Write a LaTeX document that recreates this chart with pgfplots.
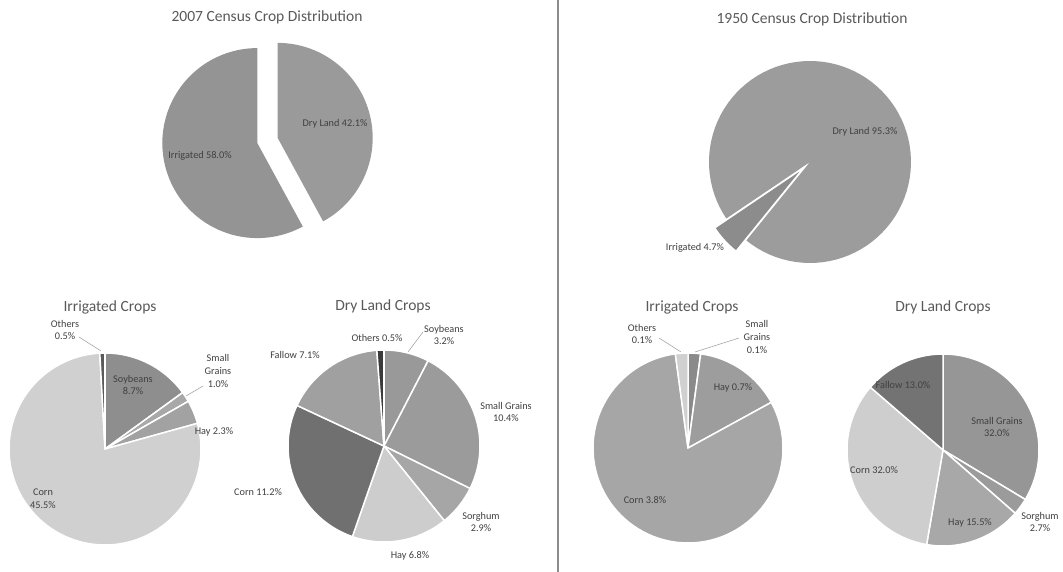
\documentclass[border=0pt]{standalone}
\usepackage{fontspec}
\setmainfont{Carlito}
\usepackage{pgfplots}
\pgfplotsset{compat=1.18}
\definecolor{txt}{HTML}{404040}
\definecolor{ttlc}{HTML}{595959}
\definecolor{divc}{HTML}{8C8C8C}
\definecolor{leadc}{HTML}{A6A6A6}
% slice colours
\definecolor{cA1}{HTML}{9A9A9A}
\definecolor{cA2}{HTML}{949494}
\definecolor{cB1}{HTML}{8C8C8C}
\definecolor{cB2}{HTML}{9C9C9C}
\definecolor{cC1}{HTML}{8E8E8E}
\definecolor{cC2}{HTML}{A8A8A8}
\definecolor{cC3}{HTML}{A2A2A2}
\definecolor{cC4}{HTML}{D0D0D0}
\definecolor{cC5}{HTML}{5A5A5A}
\definecolor{cD1}{HTML}{999999}
\definecolor{cD2}{HTML}{9B9B9B}
\definecolor{cD3}{HTML}{A6A6A6}
\definecolor{cD4}{HTML}{CDCDCD}
\definecolor{cD5}{HTML}{707070}
\definecolor{cD6}{HTML}{A0A0A0}
\definecolor{cD7}{HTML}{3A3A3A}
\definecolor{cE1}{HTML}{8A8A8A}
\definecolor{cE2}{HTML}{9D9D9D}
\definecolor{cE3}{HTML}{A6A6A6}
\definecolor{cE4}{HTML}{D0D0D0}
\definecolor{cF1}{HTML}{969696}
\definecolor{cF2}{HTML}{9B9B9B}
\definecolor{cF3}{HTML}{A8A8A8}
\definecolor{cF4}{HTML}{CECECE}
\definecolor{cF5}{HTML}{737373}

% pie set-up: centre x, centre y, radius, total, start angle
\newcommand\pieset[5]{\gdef\pcx{#1}\gdef\pcy{#2}\gdef\pr{#3}\gdef\ptot{#4}\gdef\pang{#5}}
\gdef\pdraw{draw=white, line width=1.5bp}
% slice: [explode] value colour  (clockwise)
\newcommand\slice[3][0]{%
  \pgfmathsetmacro\pend{\pang-#2/\ptot*360}%
  \pgfmathsetmacro\pmid{(\pang+\pend)/2}%
  \pgfmathsetmacro\ox{\pcx+#1*cos(\pmid)}%
  \pgfmathsetmacro\oy{\pcy+#1*sin(\pmid)}%
  \edef\next{\noexpand\addplot[fill=#3, \pdraw, mark=none, domain=\pend:\pang, samples=90, variable=\noexpand\t] ({\ox+\pr*cos(\noexpand\t)},{\oy+\pr*sin(\noexpand\t)}) -- (axis cs:\ox,\oy) -- cycle;}%
  \next
  \global\let\pang\pend}

\tikzset{
  lbl/.style={font=\fontsize{10.3}{12.8}\selectfont, text=txt, align=center, inner sep=0pt},
  ttl/.style={font=\fontsize{15.6}{17}\selectfont, text=ttlc, inner sep=0pt},
  leader/.style={draw=leadc, line width=0.6bp}
}

\begin{document}
\begin{tikzpicture}
\useasboundingbox (0,0) rectangle (1063bp,572bp);
\begin{axis}[at={(0,0)}, anchor=south west, scale only axis,
  width=1063bp, height=572bp, xmin=0, xmax=1063, ymin=0, ymax=572,
  hide axis, clip=false]

% divider
\addplot[draw=divc, line width=1.5bp, mark=none] coordinates {(558,0) (558,572)};

% ---- 2007 Census Crop Distribution
\gdef\pdraw{draw=none}
\pieset{267.5}{431.5}{95}{100.1}{90}
\slice[10.5]{42.1}{cA1}
\slice[10.5]{58.0}{cA2}

% ---- 1950 Census Crop Distribution
\pieset{810}{410}{101}{100.0}{230.96}
\slice[14.2]{4.7}{cB1}
\slice{95.3}{cB2}

\gdef\pdraw{draw=white, line width=1.5bp}
% ---- 2007 Irrigated Crops
\pieset{105}{123}{96}{58.0}{90}
\slice{8.7}{cC1}
\slice{1.0}{cC2}
\slice{2.3}{cC3}
\slice{45.5}{cC4}
\slice{0.5}{cC5}

% ---- 2007 Dry Land Crops
\pieset{384}{126}{96}{42.1}{90}
\slice{3.2}{cD1}
\slice{10.4}{cD2}
\slice{2.9}{cD3}
\slice{6.8}{cD4}
\slice{11.2}{cD5}
\slice{7.1}{cD6}
\slice{0.5}{cD7}

% ---- 1950 Irrigated Crops
\pieset{688}{124}{95}{4.7}{90}
\slice{0.1}{cE1}
\slice{0.7}{cE2}
\slice{3.8}{cE3}
\slice{0.1}{cE4}

% ---- 1950 Dry Land Crops
\pieset{943}{122}{96}{95.2}{90}
\slice{32.0}{cF1}
\slice{2.7}{cF2}
\slice{15.5}{cF3}
\slice{32.0}{cF4}
\slice{13.0}{cF5}

% titles
\node[ttl] at (axis cs:267,555) {2007 Census Crop Distribution};
\node[ttl] at (axis cs:812,553) {1950 Census Crop Distribution};
\node[ttl] at (axis cs:110,265) {Irrigated Crops};
\node[ttl] at (axis cs:383,266) {Dry Land Crops};
\node[ttl] at (axis cs:692,265) {Irrigated Crops};
\node[ttl] at (axis cs:943,265) {Dry Land Crops};

% top pie labels
\node[lbl] at (axis cs:335,448) {Dry Land 42.1\%};
\node[lbl] at (axis cs:200,416) {Irrigated 58.0\%};
\node[lbl] at (axis cs:865,440) {Dry Land 95.3\%};
\node[lbl] at (axis cs:695,324) {Irrigated 4.7\%};

% 2007 irrigated labels
\draw[leader] (axis cs:79,235) -- (axis cs:101,221);
\draw[leader] (axis cs:203,186) -- (axis cs:186,176);
\node[lbl] at (axis cs:65,242) {Others\\0.5\%};
\node[lbl] at (axis cs:218,201) {Small\\Grains\\1.0\%};
\node[lbl] at (axis cs:214,140) {Hay 2.3\%};
\node[lbl] at (axis cs:133,187) {Soybeans\\8.7\%};
\node[lbl] at (axis cs:43,73) {Corn\\45.5\%};

% 2007 dry land labels
\draw[leader] (axis cs:423,240) -- (axis cs:408,220);
\node[lbl] at (axis cs:377,234) {Others 0.5\%};
\node[lbl] at (axis cs:444,237) {Soybeans\\3.2\%};
\node[lbl] at (axis cs:295,217) {Fallow 7.1\%};
\node[lbl] at (axis cs:506,160) {Small Grains\\10.4\%};
\node[lbl] at (axis cs:481,50) {Sorghum\\2.9\%};
\node[lbl] at (axis cs:410,16) {Hay 6.8\%};
\node[lbl] at (axis cs:258,80) {Corn 11.2\%};

% 1950 irrigated labels
\draw[leader] (axis cs:659,234) -- (axis cs:681,220);
\draw[leader] (axis cs:739,234) -- (axis cs:695,220);
\node[lbl] at (axis cs:642,238) {Others\\0.1\%};
\node[lbl] at (axis cs:757,235) {Small\\Grains\\0.1\%};
\node[lbl] at (axis cs:733,184) {Hay 0.7\%};
\node[lbl] at (axis cs:645,72) {Corn 3.8\%};

% 1950 dry land labels
\node[lbl] at (axis cs:903,187) {Fallow 13.0\%};
\node[lbl] at (axis cs:997,145) {Small Grains\\32.0\%};
\node[lbl] at (axis cs:1040,50) {Sorghum\\2.7\%};
\node[lbl] at (axis cs:970,49) {Hay 15.5\%};
\node[lbl] at (axis cs:874,102) {Corn 32.0\%};
\end{axis}
\end{tikzpicture}
\end{document}
